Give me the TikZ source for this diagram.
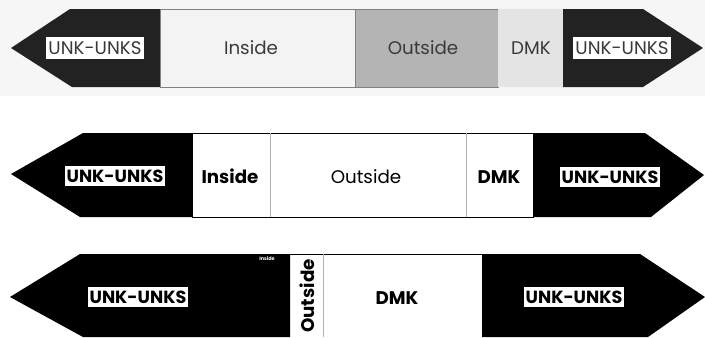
\documentclass[tikz,border=0pt]{standalone}
\usepackage{fontspec}
\setmainfont{Poppins}
\definecolor{pipeblack}{HTML}{222222}
\definecolor{scanink}{HTML}{3A3A3A}
\definecolor{insidegray}{HTML}{F3F3F3}
\definecolor{outsidegray}{HTML}{B4B4B4}
\definecolor{dmkgray}{HTML}{E4E4E4}
\begin{document}
\begin{tikzpicture}[x=0.025cm,y=-0.025cm,
  tagone/.style={fill=white,text=scanink,inner xsep=2pt,inner ysep=3pt,font=\fontsize{13}{13}\selectfont},
  segone/.style={text=scanink,font=\fontsize{13}{13}\selectfont},
  tag/.style={fill=white,inner xsep=1.5pt,inner ysep=2.5pt,font=\fontsize{12.5}{12.5}\selectfont\bfseries},
  seg/.style={font=\fontsize{13}{13}\selectfont\bfseries}]
\useasboundingbox (0,0) rectangle (705,337);
\fill[gray!7] (0,0) rectangle (705,96);
\fill[pipeblack] (11,48) -- (70,9) -- (160,9) -- (160,87) -- (72,87) -- cycle;
\filldraw[fill=insidegray,draw=gray] (160,9) rectangle (355,87);
\filldraw[fill=outsidegray,draw=gray] (355,9) rectangle (498,87);
\fill[dmkgray] (498,9) rectangle (563,87);
\fill[pipeblack] (563,9) -- (643,9) -- (703,48) -- (643,87) -- (563,87) -- cycle;
\node[tagone] (unkL1) at (95,48) {UNK-UNKS};
\node[segone] (ins1) at (251,48) {Inside};
\node[segone] (out1) at (423,48) {Outside};
\node[segone] (dmk1) at (531,48) {DMK};
\node[tagone] (unkR1) at (622,48) {UNK-UNKS};
\fill[black] (11,174) -- (83,133) -- (192,133) -- (192,217) -- (80,217) -- cycle;
\filldraw[fill=white,draw=black,thin] (192,133) rectangle (533,217);
\draw[gray!60] (270,133) -- (270,217) (466,133) -- (466,217);
\fill[black] (533,133) -- (645,133) -- (704,175) -- (651,217) -- (533,217) -- cycle;
\node[tag] (unkL2) at (115,176) {UNK-UNKS};
\node[seg] (ins2) at (230,176) {Inside};
\node[font=\fontsize{13}{13}\selectfont] (out2) at (366,177) {Outside};
\node[seg] (dmk2) at (499,177) {DMK};
\node[tag] (unkR2) at (610,177) {UNK-UNKS};
\fill[black] (10,297) -- (80,254) -- (290,254) -- (290,337) -- (83,337) -- cycle;
\draw[black,thin] (290,254) -- (482,254);
\draw[gray!60] (323,254) -- (323,337);
\fill[black] (482,254) -- (640,254) -- (705,297) -- (648,337) -- (482,337) -- cycle;
\node[text=white,font=\fontsize{3.5}{3.5}\selectfont\bfseries] (ins3) at (267,259) {Inside};
\node[tag] (unkL3) at (138,297) {UNK-UNKS};
\node[seg,rotate=90] (out3) at (307,296) {Outside};
\node[seg] (dmk3) at (397,298) {DMK};
\node[tag] (unkR3) at (574,297) {UNK-UNKS};
\end{tikzpicture}
\end{document}
